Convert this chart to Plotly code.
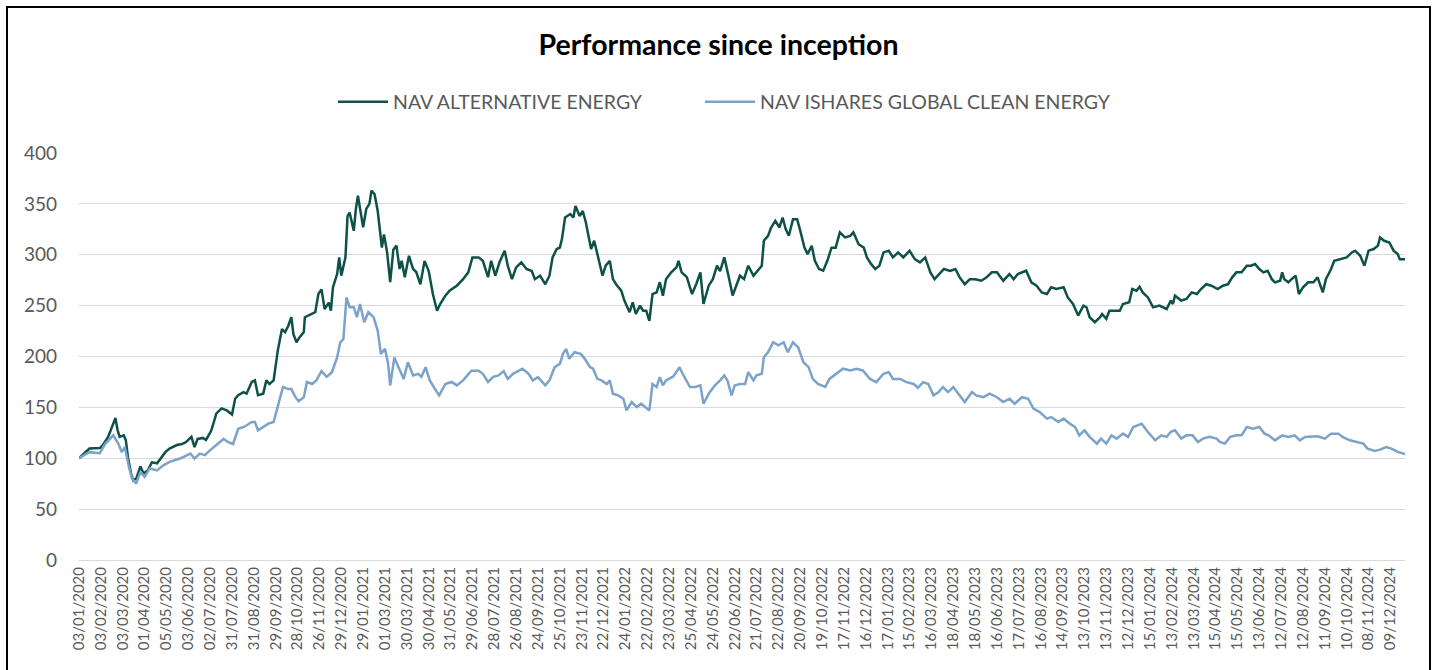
import plotly.graph_objects as go

# ---- Data (trading-day index since inception, NAV rebased to 100) ----
date_labels = [
    "03/01/2020", "03/02/2020", "03/03/2020", "01/04/2020", "05/05/2020", "03/06/2020",
    "02/07/2020", "31/07/2020", "31/08/2020", "29/09/2020", "28/10/2020", "26/11/2020",
    "29/12/2020", "29/01/2021", "01/03/2021", "30/03/2021", "30/04/2021", "31/05/2021",
    "29/06/2021", "28/07/2021", "26/08/2021", "24/09/2021", "25/10/2021", "23/11/2021",
    "22/12/2021", "24/01/2022", "22/02/2022", "23/03/2022", "25/04/2022", "24/05/2022",
    "22/06/2022", "21/07/2022", "22/08/2022", "20/09/2022", "19/10/2022", "17/11/2022",
    "16/12/2022", "17/01/2023", "15/02/2023", "16/03/2023", "18/04/2023", "18/05/2023",
    "16/06/2023", "17/07/2023", "16/08/2023", "14/09/2023", "13/10/2023", "13/11/2023",
    "12/12/2023", "15/01/2024", "13/02/2024", "13/03/2024", "15/04/2024", "15/05/2024",
    "13/06/2024", "12/07/2024", "12/08/2024", "11/09/2024", "10/10/2024", "08/11/2024",
    "09/12/2024",
]
label_step = 21  # trading days between labels
last_day = 1274

alt_day = [
    0, 10, 20, 23, 28, 33, 35, 37, 39, 43, 45, 47, 50, 52, 55, 59, 62, 66, 70, 75, 79, 83, 87,
    94, 99, 103, 108, 111, 114, 119, 122, 127, 132, 137, 142, 147, 150, 153, 158, 161, 166,
    169, 172, 177, 180, 183, 187, 191, 195, 198, 201, 204, 206, 209, 212, 216, 217, 220, 224,
    227, 230, 233, 236, 240, 242, 244, 248, 250, 252, 256, 258, 260, 264, 266, 268, 271, 273,
    276, 279, 281, 284, 287, 289, 291, 293, 296, 299, 302, 305, 308, 310, 313, 317, 321, 324,
    328, 332, 336, 340, 344, 347, 352, 356, 363, 369, 374, 378, 384, 388, 393, 396, 400, 404,
    409, 412, 416, 420, 425, 430, 435, 438, 443, 448, 452, 455, 459, 462, 464, 467, 472, 475,
    477, 481, 484, 487, 489, 492, 495, 498, 500, 503, 506, 510, 513, 516, 521, 524, 529, 532,
    535, 539, 542, 545, 548, 551, 555, 558, 561, 564, 569, 574, 576, 579, 584, 589, 593, 597,
    600, 605, 609, 613, 616, 620, 624, 628, 632, 635, 639, 643, 648, 653, 656, 658, 662, 665,
    669, 673, 676, 679, 682, 686, 690, 693, 697, 700, 704, 707, 711, 715, 719, 723, 727, 731,
    736, 741, 744, 749, 754, 757, 761, 765, 769, 773, 778, 782, 787, 792, 798, 803, 808, 813,
    818, 822, 827, 831, 837, 842, 846, 851, 856, 861, 867, 872, 877, 882, 888, 894, 898, 902,
    910, 915, 920, 925, 930, 934, 939, 946, 950, 955, 960, 965, 968, 971, 976, 981, 983, 987,
    990, 995, 1000, 1003, 1009, 1012, 1016, 1019, 1022, 1027, 1032, 1038, 1045, 1049, 1051,
    1053, 1059, 1064, 1069, 1074, 1078, 1083, 1088, 1094, 1099, 1104, 1108, 1112, 1117, 1122,
    1126, 1130, 1134, 1138, 1142, 1146, 1149, 1154, 1156, 1158, 1162, 1165, 1169, 1172, 1176,
    1181, 1186, 1190, 1195, 1198, 1203, 1206, 1211, 1218, 1223, 1226, 1231, 1235, 1239, 1244,
    1248, 1250, 1254, 1259, 1263, 1267, 1269, 1274,
]
alt_nav = [
    100, 109.5, 110, 113, 121, 134, 139.5, 128, 121, 122.5, 117.6, 101, 85, 78.5, 80, 92, 85,
    88, 96, 95, 101, 106, 109.5, 113, 114, 116, 121, 111, 119, 120, 118, 127, 144, 149, 147,
    143, 158.5, 162, 165, 163.5, 175, 176.5, 162, 163.5, 176.5, 173, 176.5, 206, 227, 224, 230,
    238.6, 222, 214, 219, 224, 238.6, 240, 242, 243.5, 261.4, 266, 246.7, 253, 245, 268, 281,
    297.4, 279.4, 297.4, 338, 341.5, 323.5, 345, 358, 341.5, 327, 345, 350, 363, 359.5, 343,
    327, 307, 320, 302.6, 273, 305, 309, 286, 294, 278, 299, 286, 283, 271, 294, 284, 261.4,
    245, 251.6, 259.8, 264.7, 269.6, 276, 282.7, 297.4, 297.4, 294, 278, 294, 279.4, 292.6,
    304, 289, 276, 287.6, 292.6, 286, 284, 276, 279.4, 271, 279.4, 297.4, 305.6, 307, 315.4,
    336.6, 340, 336.6, 348, 338, 343, 331.7, 320, 305.6, 313.7, 300.6, 294, 279.4, 289.2, 294,
    276, 271, 264.7, 255, 243.5, 253.3, 241.8, 250, 245, 245, 235, 261.4, 263, 273, 259.8, 276,
    282.7, 287.6, 294, 282.7, 278, 261.4, 271, 282.7, 251.6, 269.6, 276, 289.2, 284, 297.4,
    279.4, 260, 271, 279.4, 276, 289.2, 279.4, 286, 289.2, 313.7, 318.6, 326.8, 333.3, 326.8,
    336.6, 325.2, 318.6, 335, 335, 323.5, 307, 300.6, 308.8, 294, 286, 284.3, 294, 307, 307,
    322, 317, 318.6, 322, 310.4, 307, 297.4, 291, 286, 289.2, 302.3, 304, 297.4, 302.3, 297.4,
    304, 295.7, 292.5, 297.4, 282.7, 276, 281, 286, 284, 286, 278, 271, 276, 276, 274.5, 277.8,
    282.7, 282.7, 274.5, 281, 276, 281, 284.3, 272.9, 269.6, 263, 261.4, 268, 266.3, 268, 258,
    251.6, 240.2, 250, 248.4, 238.6, 233.7, 238.6, 241.8, 237, 245, 245, 245, 251.6, 253.3,
    266.3, 264.7, 268.6, 263, 258, 248.4, 250, 246.7, 255, 251.6, 259.8, 255, 256.5, 263,
    261.4, 266.3, 271, 269.6, 266.3, 269.6, 271, 277.8, 282.7, 282.7, 289.2, 289.2, 290.8, 286,
    282.7, 284.3, 276, 272.9, 274.5, 282.7, 276, 272.9, 276, 279.4, 261.4, 268, 272.9, 272.9,
    277.8, 263, 276, 286, 294, 295.7, 297.4, 302.3, 304, 299, 289.2, 304, 305.6, 309, 317,
    313.7, 312, 304, 300.6, 295.7, 295.7,
]

clean_day = [
    0, 10, 20, 25, 33, 38, 41, 44, 48, 51, 55, 59, 63, 68, 75, 81, 87, 97, 107, 111, 116, 121,
    126, 132, 139, 143, 148, 153, 159, 166, 169, 172, 177, 182, 187, 191, 196, 201, 204, 208,
    211, 216, 219, 224, 228, 233, 238, 243, 248, 251, 254, 257, 260, 264, 267, 270, 274, 278,
    283, 287, 290, 294, 297, 299, 303, 307, 312, 316, 321, 326, 329, 333, 337, 342, 346, 352,
    358, 363, 369, 377, 384, 388, 393, 398, 403, 408, 412, 417, 426, 432, 436, 441, 448, 452,
    457, 462, 465, 468, 471, 476, 482, 486, 491, 494, 498, 502, 507, 510, 513, 518, 523, 526,
    531, 536, 540, 544, 548, 551, 555, 558, 561, 564, 571, 577, 580, 587, 592, 597, 600, 606,
    611, 616, 620, 623, 627, 630, 635, 640, 643, 648, 651, 656, 658, 662, 667, 672, 677, 681,
    686, 691, 696, 701, 705, 710, 717, 721, 728, 734, 741, 747, 753, 760, 766, 773, 778, 782,
    789, 795, 802, 806, 811, 816, 821, 826, 830, 835, 840, 846, 851, 858, 862, 869, 875, 882,
    888, 894, 899, 906, 912, 917, 923, 930, 934, 941, 946, 952, 957, 961, 966, 971, 978, 982,
    987, 992, 997, 1003, 1008, 1013, 1021, 1027, 1034, 1040, 1045, 1049, 1053, 1059, 1064,
    1070, 1075, 1080, 1086, 1093, 1096, 1101, 1106, 1112, 1117, 1122, 1128, 1134, 1139, 1143,
    1149, 1156, 1162, 1168, 1173, 1178, 1184, 1190, 1197, 1203, 1210, 1214, 1221, 1227, 1234,
    1238, 1245, 1250, 1256, 1261, 1267, 1274,
]
clean_nav = [
    100, 106, 105, 114, 122.5, 114, 106, 111, 91.5, 80, 75, 86.6, 81.7, 90, 88, 93, 96.4, 99.7,
    104.6, 99.7, 104.6, 103, 108, 113, 119, 116, 114, 129, 131, 135.6, 135.6, 127.5, 131, 134,
    135.6, 152, 170, 168, 168, 160, 156, 160, 175, 173, 176.5, 185.6, 180, 184.6, 199, 214, 217,
    258, 248.4, 248.4, 238.6, 251.6, 233.7, 243.5, 238.6, 225.5, 202.6, 207.5, 193, 171.6, 199,
    189.5, 178, 194.4, 181.4, 183, 180, 189.5, 176.5, 168, 161.8, 173, 175, 171.6, 176.5, 186,
    186, 183, 175, 180, 181.4, 185.6, 178, 183, 188, 183, 176.5, 179.7, 171.6, 176.5, 189.5,
    192.8, 202.6, 207.5, 197.7, 204.2, 202.6, 197.7, 189.5, 188, 178, 176.5, 173, 176.5, 163.4,
    161.8, 158.5, 147, 155.2, 150.3, 153.6, 150.3, 147, 173, 170, 179.7, 171.6, 176.5, 180.4,
    189.5, 183, 170, 170, 171.6, 153.6, 165, 171.6, 176.5, 181.4, 176.5, 161.8, 171.6, 173,
    173, 184.6, 176.5, 181.4, 183, 199.3, 204.2, 214, 211, 214, 204.2, 214, 209, 194.4, 189.5,
    178, 173, 170, 178, 183, 188, 186.3, 188, 186.3, 178, 174.8, 183, 184.6, 178, 178, 174.8,
    173, 169.3, 174.8, 173, 161.8, 165, 170, 165, 170, 161.8, 155.2, 165, 161.8, 160, 163.4,
    160, 155.2, 158.5, 153.6, 160, 158.5, 148.7, 145.4, 139, 140.5, 135.6, 139, 134, 130.7,
    122.5, 127.5, 121, 114.4, 119.3, 114.4, 122.5, 119.3, 124.2, 121, 130.7, 134, 125.8, 117.6,
    122.5, 121, 126, 127.5, 119.3, 122.5, 122.5, 116, 119.3, 121, 119.3, 116, 114.4, 121,
    122.5, 122.5, 130.7, 129, 130.7, 124.2, 122.5, 117.6, 122.5, 121, 122.5, 117.6, 121, 121.6,
    121.6, 119.3, 124.2, 124.2, 121, 117.6, 116, 114.4, 109.5, 107.2, 108.5, 111, 109.5, 106.2,
    104,
]

series_names = ["NAV ALTERNATIVE ENERGY", "NAV ISHARES GLOBAL CLEAN ENERGY"]
series_colors = ["#0E5148", "#7BA3C9"]

FONT = "Lato"
W, H = 1437, 670
ML, MR, MT, MB = 79, 32, 153, 110

fig = go.Figure()
fig.add_trace(go.Scatter(x=alt_day, y=alt_nav, mode="lines", name=series_names[0],
                         line=dict(color=series_colors[0], width=2.5), legend="legend"))
fig.add_trace(go.Scatter(x=clean_day, y=clean_nav, mode="lines", name=series_names[1],
                         line=dict(color=series_colors[1], width=2.5), legend="legend2"))

# outer frame (as in the original image)
pw, ph = W - ML - MR, H - MT - MB
def px_x(p):
    return (p - ML) / pw
def px_y(p):
    return (H - MB - p) / ph
fig.add_shape(type="rect", xref="paper", yref="paper",
              x0=px_x(7), x1=px_x(1430), y0=px_y(675), y1=px_y(7),
              line=dict(color="black", width=2), fillcolor="rgba(0,0,0,0)", layer="above")

legend_font = dict(family=FONT, size=19.5, color="#595959")
legend_common = dict(orientation="h", xref="container", xanchor="left",
                     y=1 - 102 / H, yref="container", yanchor="middle",
                     font=legend_font, bgcolor="rgba(0,0,0,0)", itemwidth=50)

fig.update_layout(
    width=W, height=H,
    margin=dict(l=ML, r=MR, t=MT, b=MB),
    paper_bgcolor="white", plot_bgcolor="white",
    title=dict(text="<b>Performance since inception</b>", x=0.5, xref="container",
               xanchor="center", y=1 - 45 / H, yref="container", yanchor="middle",
               font=dict(family=FONT, size=28.5, color="black")),
    legend=dict(x=333 / W, **legend_common),
    legend2=dict(x=700 / W, **legend_common),
    showlegend=True,
    xaxis=dict(range=[0, last_day], tickmode="array",
               tickvals=[k * label_step for k in range(len(date_labels))],
               ticktext=date_labels, tickangle=-90,
               tickfont=dict(family=FONT, size=15, color="#595959"),
               showgrid=False, zeroline=False, showline=True, linecolor="#D9D9D9",
               linewidth=1, ticks=""),
    yaxis=dict(range=[0, 400], dtick=50, tickfont=dict(family=FONT, size=19, color="#595959"),
               gridcolor="#D9D9D9", gridwidth=1, zeroline=False, showline=False,
               ticks="", ticklabelstandoff=21),
)

fig.write_html("out.html", config={"displayModeBar": False},
               post_script="document.body.style.margin='0px';document.body.style.overflow='hidden';")
